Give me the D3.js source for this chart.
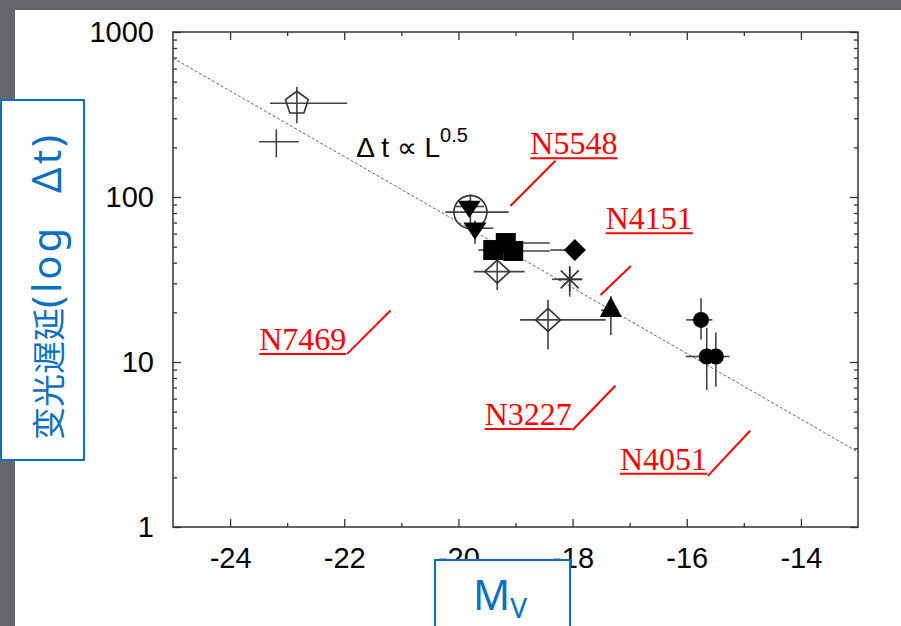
<!DOCTYPE html>
<html>
<head>
<meta charset="utf-8">
<script src="https://cdn.jsdelivr.net/npm/d3@7"></script>
<style>
	body { margin: 0; background: #67646b; }
	svg { display: block; }
</style>
</head>
<body>
<svg id="chart"></svg>
<script>
// ---- data ----
const shapes = ['pentagon', 'none', 'openCircle', 'downTriangle', 'downTriangle',
	'square', 'square', 'square', 'openDiamond', 'asterisk', 'filledDiamond',
	'upTriangle', 'openDiamond', 'filledCircle', 'filledCircle', 'filledCircle'];
const magV = [-22.83, -23.19, -19.79, -19.81, -19.71, -19.39, -19.17, -19.04,
	-19.32, -18.05, -17.96, -17.33, -18.43, -15.75, -15.65, -15.49];
const lag = [370, 216, 81, 87.6, 64.7, 47.7, 52.6, 47.1, 35.3, 31.7, 47.7, 20.6, 18, 18, 10.8, 10.8];
const magLo = [-23.3, -23.49, -20.23, -20.05, -19.85, -19.65, -19.5, -19.3,
	-19.73, -18.36, -18.39, -17.5, -18.92, -16.01, -16.02, -15.6];
const magHi = [-21.95, -22.8, -19.12, -19.55, -19.39, -19.1, -18.4, -18.4,
	-18.84, -17.83, -17.96, -17.2, -17.42, -15.55, -15.5, -15.25];
const lagLo = [280, 174, 63, 80, 52, 44, 49, 44, 27.3, 24.9, 47.7, 14.6, 11.9, 13.7, 6.77, 7.08];
const lagHi = [466, 257, 104, 96, 72, 52, 56, 50, 40.9, 38.2, 47.7, 25, 23.8, 24.3, 16.1, 15.1];

// fitted relation, end points on the frame
const fitLine = [[-25, 695], [-13, 2.85]];

const xTicks = [-24, -22, -20, -18, -16, -14];
const xMinorTicks = [-23, -21, -19, -17, -15];
const yTicks = [1, 10, 100, 1000];

// object names, text anchor and leader line (in data units)
const labelNames = ['N5548', 'N4151', 'N7469', 'N3227', 'N4051'];
const labelAt = [[-18.74, 181.5], [-17.42, 63.7], [-23.49, 11.83], [-19.54, 4.15], [-17.17, 2.22]];
const leaderFrom = [[-18.30, 166], [-16.98, 38.2], [-21.95, 11.2], [-18.0, 3.87], [-15.63, 2.04]];
const leaderTo = [[-19.09, 88.2], [-17.51, 25.5], [-21.19, 20.5], [-17.25, 7.18], [-14.89, 3.83]];

const W = 901, H = 626;
const margin = { left: 173, top: 32, right: W - 858, bottom: H - 527 };

const svg = d3.select('#chart').attr('width', W).attr('height', H);

// slide background
svg.append('rect').attr('width', W).attr('height', H).attr('fill', '#67646b');
svg.append('rect').attr('x', 15).attr('y', 10).attr('width', W - 15).attr('height', H - 10).attr('fill', '#fff');

const x = d3.scaleLinear().domain([-25, -13]).range([margin.left, W - margin.right]);
const y = d3.scaleLog().domain([1, 1000]).range([H - margin.bottom, margin.top]);

const yMinorTicks = [];
[1, 10, 100].forEach(d => { for (let k = 2; k <= 9; k++) yMinorTicks.push(d * k); });

const tickFont = '"Liberation Sans", Arial, Helvetica, sans-serif';

function styleAxis(g) {
	g.select('.domain').remove();
	g.selectAll('.tick line').attr('stroke', '#333').attr('stroke-width', 1.3);
	g.selectAll('.tick text').attr('fill', '#000').style('font-family', tickFont).style('font-size', '29px');
}

// major ticks with labels
svg.append('g').attr('transform', `translate(0,${y(1)})`)
	.call(d3.axisBottom(x).tickValues(xTicks).tickSize(-8).tickPadding(20).tickFormat(d => String(d)))
	.call(styleAxis);
svg.append('g').attr('transform', `translate(${x(-25)},0)`)
	.call(d3.axisLeft(y).tickValues(yTicks).tickSize(-8).tickPadding(19).tickFormat(d => String(d)))
	.call(styleAxis);
svg.append('g').attr('transform', `translate(0,${y(1000)})`)
	.call(d3.axisTop(x).tickValues(xTicks).tickSize(-8).tickFormat(''))
	.call(styleAxis);
svg.append('g').attr('transform', `translate(${x(-13)},0)`)
	.call(d3.axisRight(y).tickValues(yTicks).tickSize(-8).tickFormat(''))
	.call(styleAxis);

// minor ticks
svg.append('g').attr('transform', `translate(0,${y(1)})`)
	.call(d3.axisBottom(x).tickValues(xMinorTicks).tickSize(-4).tickFormat('')).call(styleAxis);
svg.append('g').attr('transform', `translate(0,${y(1000)})`)
	.call(d3.axisTop(x).tickValues(xMinorTicks).tickSize(-4).tickFormat('')).call(styleAxis);
svg.append('g').attr('transform', `translate(${x(-25)},0)`)
	.call(d3.axisLeft(y).tickValues(yMinorTicks).tickSize(-4).tickFormat('')).call(styleAxis);
svg.append('g').attr('transform', `translate(${x(-13)},0)`)
	.call(d3.axisRight(y).tickValues(yMinorTicks).tickSize(-4).tickFormat('')).call(styleAxis);

// frame
svg.append('rect')
	.attr('x', x(-25)).attr('y', y(1000))
	.attr('width', x(-13) - x(-25)).attr('height', y(1) - y(1000))
	.attr('fill', 'none').attr('stroke', '#333').attr('stroke-width', 1.5);

// dashed fit line
svg.append('path')
	.datum(fitLine)
	.attr('d', d3.line().x(d => x(d[0])).y(d => y(d[1])))
	.attr('fill', 'none').attr('stroke', '#666').attr('stroke-width', 1).attr('stroke-dasharray', '3,2');

const points = shapes.map((s, i) => ({
	shape: s, m: magV[i], t: lag[i], mLo: magLo[i], mHi: magHi[i], tLo: lagLo[i], tHi: lagHi[i]
}));

// error bars
const bars = svg.append('g').attr('stroke', '#444').attr('stroke-width', 1.6);
bars.selectAll('.xerr').data(points).join('line').attr('class', 'xerr')
	.attr('x1', d => x(d.mLo)).attr('x2', d => x(d.mHi))
	.attr('y1', d => y(d.t)).attr('y2', d => y(d.t));
bars.selectAll('.yerr').data(points).join('line').attr('class', 'yerr')
	.attr('x1', d => x(d.m)).attr('x2', d => x(d.m))
	.attr('y1', d => y(d.tLo)).attr('y2', d => y(d.tHi));

// marker shapes (pixel sizes)
function markerPath(shape) {
	switch (shape) {
		case 'pentagon': {
			const r = 12;
			return d3.range(5).map((k, j) => {
				const a = -Math.PI / 2 + j * 2 * Math.PI / 5;
				return (j ? 'L' : 'M') + (r * Math.cos(a)).toFixed(2) + ',' + (r * Math.sin(a)).toFixed(2);
			}).join('') + 'Z';
		}
		case 'openCircle': return d3.symbol(d3.symbolCircle, Math.PI * 16.5 * 16.5)();
		case 'filledCircle': return d3.symbol(d3.symbolCircle, Math.PI * 8 * 8)();
		case 'downTriangle': return 'M-11.5,-5.8L11.5,-5.8L0,11.5Z';
		case 'upTriangle': return 'M0,-13.7L11,6.9L-11,6.9Z';
		case 'square': return 'M-10,-10H10V10H-10Z';
		case 'openDiamond': return 'M0,-11.5L12.5,0L0,11.5L-12.5,0Z';
		case 'filledDiamond': return 'M0,-11L11,0L0,11L-11,0Z';
		case 'asterisk': return 'M-12,0H12M0,-12V12M-9,-9L9,9M-9,9L9,-9';
		default: return null;
	}
}
const filled = { downTriangle: 1, upTriangle: 1, square: 1, filledDiamond: 1, filledCircle: 1 };

svg.append('g').selectAll('path').data(points.filter(d => markerPath(d.shape)))
	.join('path')
	.attr('transform', d => `translate(${x(d.m)},${y(d.t)})`)
	.attr('d', d => markerPath(d.shape))
	.attr('fill', d => filled[d.shape] ? '#000' : 'none')
	.attr('stroke', d => filled[d.shape] ? 'none' : '#333')
	.attr('stroke-width', 1.6);

// relation annotation
const ann = svg.append('text')
	.attr('x', x(-21.79)).attr('y', y(175))
	.style('font-family', tickFont).style('font-size', '28px').attr('fill', '#000');
ann.append('tspan').text('Δ t ∝ L');
ann.append('tspan').attr('dy', -15).style('font-size', '20px').text('0.5');

// red object labels
labelNames.forEach((name, i) => {
	const tx = x(labelAt[i][0]), ty = y(labelAt[i][1]);
	const t = svg.append('text')
		.attr('x', tx).attr('y', ty)
		.style('font-family', '"Liberation Serif", "Times New Roman", serif')
		.style('font-size', '32px').attr('fill', '#f00')
		.text(name);
	const w = t.node().getComputedTextLength();
	svg.append('line').attr('x1', tx).attr('x2', tx + w).attr('y1', ty + 4).attr('y2', ty + 4)
		.attr('stroke', '#f00').attr('stroke-width', 2);
	svg.append('line')
		.attr('x1', x(leaderFrom[i][0])).attr('y1', y(leaderFrom[i][1]))
		.attr('x2', x(leaderTo[i][0])).attr('y2', y(leaderTo[i][1]))
		.attr('stroke', '#f00').attr('stroke-width', 2);
});

// axis title boxes
const blue = '#0c6fc2';
svg.append('rect').attr('x', 1).attr('y', 100).attr('width', 83).attr('height', 360)
	.attr('fill', '#fff').attr('stroke', blue).attr('stroke-width', 2);
const yt = svg.append('text')
	.attr('transform', 'translate(61,440) rotate(-90)')
	.attr('fill', blue);
yt.append('tspan').style('font-family', '"Noto Sans CJK SC", sans-serif').style('font-size', '33px').text('变光遅延');
yt.append('tspan').style('font-family', '"Noto Sans", sans-serif').style('font-size', '40px')
	.style('letter-spacing', '3px').text('(log');
yt.append('tspan').attr('dx', 32).style('font-family', '"Noto Sans", sans-serif').style('font-size', '40px')
	.style('letter-spacing', '3px').text('Δt)');

svg.append('rect').attr('x', 435).attr('y', 560).attr('width', 135).attr('height', 80)
	.attr('fill', '#fff').attr('stroke', blue).attr('stroke-width', 2);
const xt = svg.append('text').attr('x', 473).attr('y', 610).attr('fill', blue)
	.style('font-family', '"Noto Sans", sans-serif');
xt.append('tspan').style('font-size', '41px').text('M');
xt.append('tspan').attr('dy', 8).style('font-size', '28px').text('V');
</script>
</body>
</html>
